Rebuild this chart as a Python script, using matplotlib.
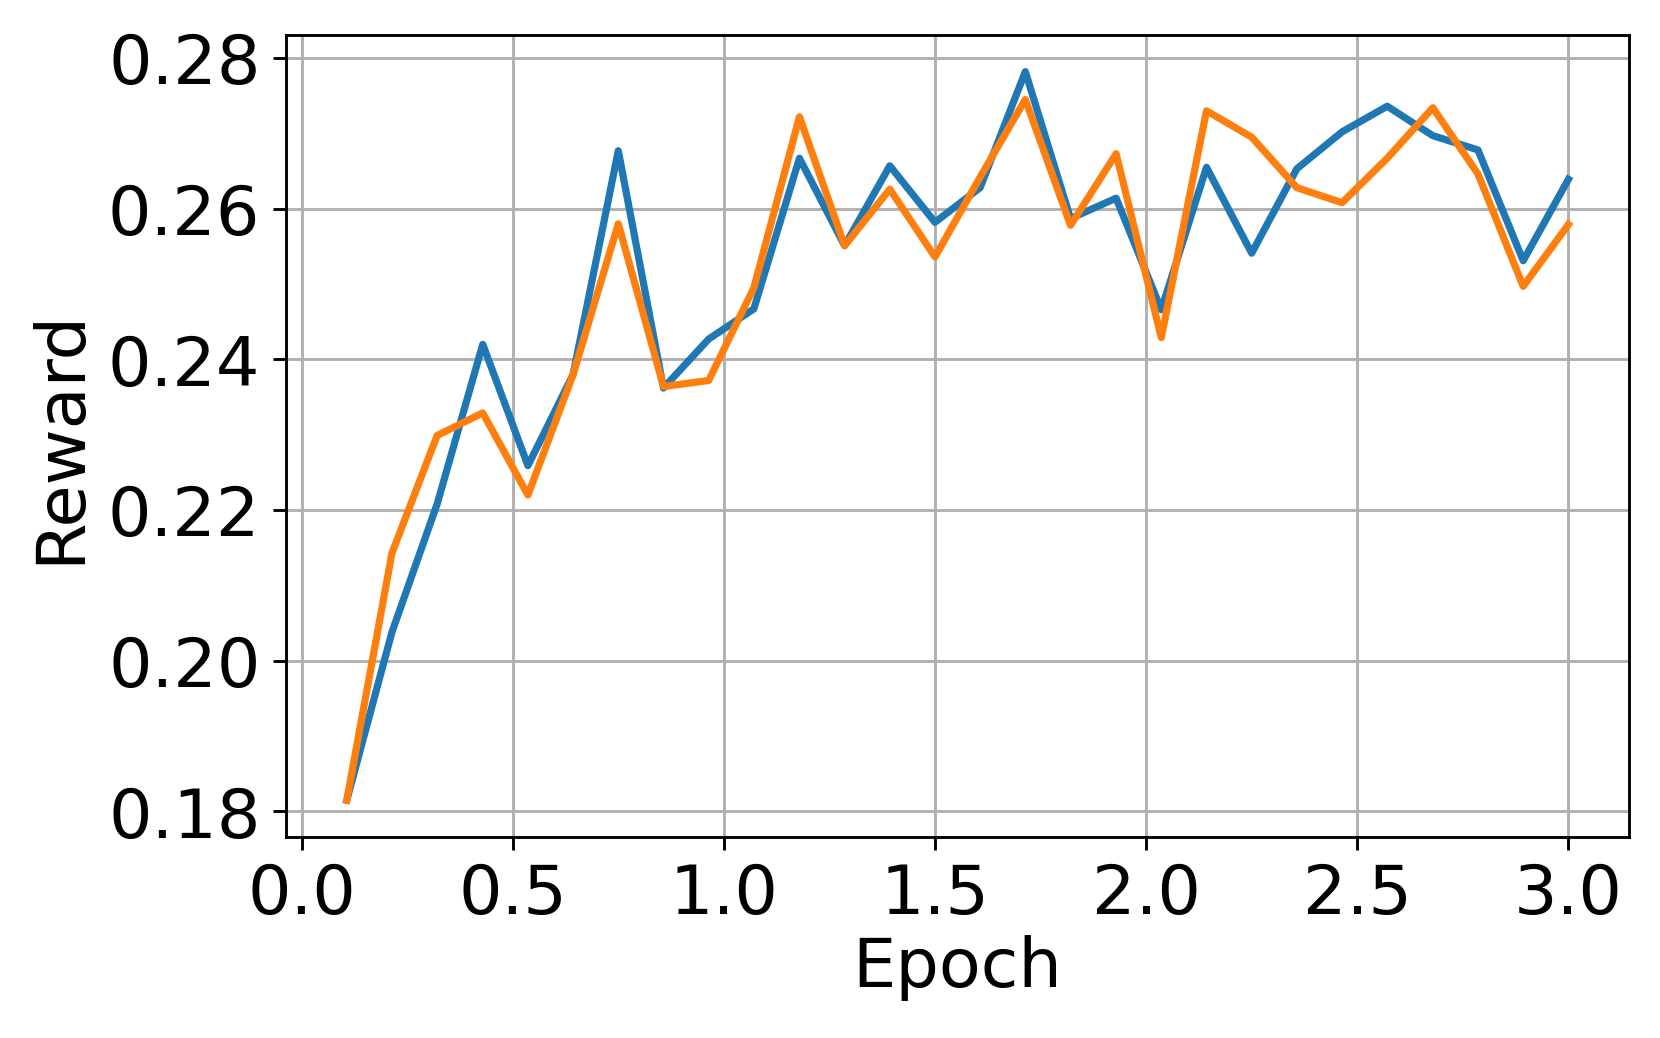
import matplotlib
matplotlib.use("Agg")
import matplotlib.pyplot as plt
import numpy as np

epochs = [0.107, 0.214, 0.321, 0.429, 0.536, 0.643, 0.750, 0.857, 0.964, 1.071,
          1.179, 1.286, 1.393, 1.500, 1.607, 1.714, 1.821, 1.929, 2.036, 2.143,
          2.250, 2.357, 2.464, 2.571, 2.679, 2.786, 2.893, 3.000]
reward_blue = [0.1815, 0.2038, 0.2208, 0.2420, 0.2259, 0.2380, 0.2677, 0.2362, 0.2427, 0.2467,
               0.2667, 0.2551, 0.2657, 0.2582, 0.2628, 0.2782, 0.2587, 0.2614, 0.2466, 0.2655,
               0.2541, 0.2653, 0.2702, 0.2736, 0.2697, 0.2678, 0.2531, 0.2639]
reward_orange = [0.1815, 0.2143, 0.2299, 0.2329, 0.2220, 0.2380, 0.2580, 0.2364, 0.2372, 0.2495,
                 0.2722, 0.2551, 0.2626, 0.2536, 0.2642, 0.2745, 0.2578, 0.2673, 0.2429, 0.2730,
                 0.2695, 0.2628, 0.2608, 0.2667, 0.2734, 0.2646, 0.2497, 0.2579]

fig = plt.figure(figsize=(6.4, 4.0), dpi=259.53)
ax = fig.add_axes([0.172, 0.194, 0.809, 0.772])
ax.plot(epochs, reward_blue, color="#1f77b4", lw=2.0)
ax.plot(epochs, reward_orange, color="#ff7f0e", lw=2.0)
ax.grid(True, color="#b0b0b0", lw=0.8)
ax.set_xlabel("Epoch", fontsize=19, labelpad=2)
ax.set_ylabel("Reward", fontsize=19)
ax.tick_params(labelsize=19)
ax.set_xticks([0.0, 0.5, 1.0, 1.5, 2.0, 2.5, 3.0])
ax.set_yticks([0.18, 0.20, 0.22, 0.24, 0.26, 0.28])
fig.savefig("out.png", dpi=259.53)
